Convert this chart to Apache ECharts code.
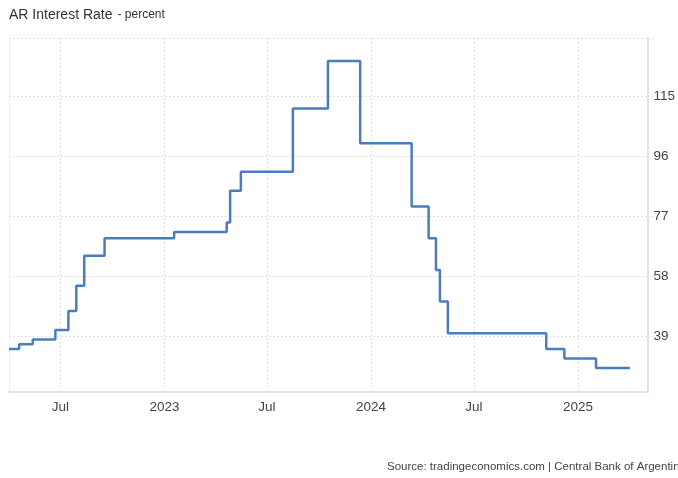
<!DOCTYPE html>
<html>
<head>
<meta charset="utf-8">
<script src="https://cdn.jsdelivr.net/npm/echarts@6/dist/echarts.min.js"></script>
<style>
html,body{margin:0;padding:0;background:#fff;}
#chart{width:678px;height:478px;}
</style>
</head>
<body>
<div id="chart"></div>
<script>
// Change dates (step chart: value holds from each date until next)
var dates = ['2022-04-01','2022-04-19','2022-05-13','2022-06-22','2022-07-15','2022-07-29','2022-08-12','2022-09-17',
             '2023-01-18','2023-04-21','2023-04-27','2023-05-16','2023-08-16','2023-10-17','2023-12-13',
             '2024-03-13','2024-04-12','2024-04-25','2024-05-02','2024-05-16','2024-11-06','2024-12-08',
             '2025-02-02','2025-04-03'];
var rates = [35, 36.5, 38, 41, 47, 55, 64.5, 70,
             72, 75, 85, 91, 111, 126, 100,
             80, 70, 60, 50, 40, 35, 32,
             29, 29];
var yTicks = [39, 58, 77, 96, 115];
var xTickDates = ['2022-07-01','2023-01-01','2023-07-01','2024-01-01','2024-07-01','2025-01-01'];
var xTickLabels = ['Jul','2023','Jul','2024','Jul','2025'];
var yMin = 21.4, yMax = 133.3;
var xMin = '2022-04-01', xMax = '2025-05-04';

function t(d) { return Date.parse(d + 'T00:00:00Z'); }
var seriesData = dates.map(function (d, i) { return [t(d), rates[i]]; });
var xTickTimes = xTickDates.map(t);

var font = 'Liberation Sans, Arial, sans-serif';
var chart = echarts.init(document.getElementById('chart'), null, {renderer: 'canvas'});
chart.setOption({
  animation: false,
  backgroundColor: '#fff',
  title: {
    left: 4, top: 1,
    text: '{a|AR Interest Rate} {b|- percent}',
    textStyle: {
      fontFamily: font, fontWeight: 'normal',
      rich: {
        a: {fontSize: 14, color: '#333', fontFamily: font, fontWeight: 'normal'},
        b: {fontSize: 12, color: '#333', fontFamily: font, fontWeight: 'normal'}
      }
    }
  },
  graphic: [{
    type: 'text', left: 387, top: 461,
    style: {text: 'Source: tradingeconomics.com | Central Bank of Argentina', font: '11.5px ' + font, fill: '#444'}
  }],
  grid: {left: 9, right: 29, top: 38, bottom: 86, containLabel: false},
  xAxis: {
    type: 'value', min: t(xMin), max: t(xMax),
    axisLine: {show: true, lineStyle: {color: '#e3e3e3', width: 2}},
    axisTick: {show: false, customValues: xTickTimes},
    axisLabel: {
      customValues: xTickTimes,
      color: '#444', fontSize: 13.5, fontFamily: font, margin: 8,
      formatter: function (v) {
        var idx = xTickTimes.indexOf(v);
        return idx >= 0 ? xTickLabels[idx] : '';
      }
    },
    splitLine: {show: true, lineStyle: {color: '#e2e2e2', type: [2, 2], width: 1}}
  },
  yAxis: [{
    type: 'value', position: 'right', min: yMin, max: yMax,
    axisLine: {show: true, lineStyle: {color: '#e3e3e3', width: 2}},
    axisTick: {show: true, length: 6, customValues: yTicks.concat([yMax]), lineStyle: {color: '#e2e2e2', type: [2, 2]}},
    axisLabel: {customValues: yTicks, color: '#444', fontSize: 13.5, fontFamily: font, margin: 6},
    splitLine: {show: true, lineStyle: {color: '#e2e2e2', type: [2, 2], width: 1}}
  }, {
    type: 'value', position: 'left', min: yMin, max: yMax,
    axisLine: {show: true, lineStyle: {color: '#eeeeee', width: 1}},
    axisTick: {show: false}, axisLabel: {show: false}, splitLine: {show: false}
  }],
  series: [{
    type: 'line', step: 'end', showSymbol: false, symbol: 'none',
    data: seriesData,
    lineStyle: {color: '#4a7dbd', width: 2.5},
    itemStyle: {color: '#4a7dbd'}
  }]
});
</script>
</body>
</html>
